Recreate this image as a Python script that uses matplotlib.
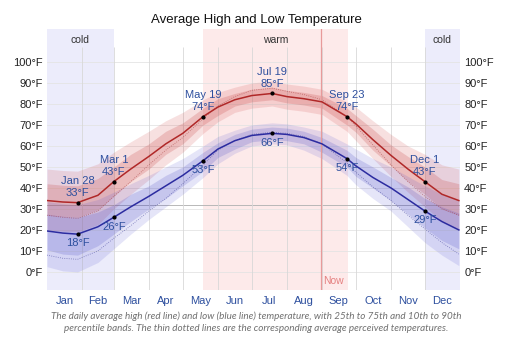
import numpy as np
import matplotlib
matplotlib.use("Agg")
import matplotlib.pyplot as plt

plt.rcParams['font.family'] = ['Liberation Sans', 'DejaVu Sans']

# day of year (0 = Jan 1)
days = [0, 14, 27, 45, 59, 74, 90, 105, 120, 138, 151, 166, 181, 199,
        212, 227, 243, 265, 273, 288, 304, 319, 334, 349, 364]

high = [34, 33.3, 33, 36.5, 43, 49, 55, 61, 66, 74, 78.5, 82, 84, 85,
        83.5, 82.5, 81, 74, 70.5, 63, 55.5, 49, 43, 37, 34]
high_p90 = [49, 48.3, 48, 51.5, 57, 62, 67, 72, 76, 82, 85.5, 88, 90, 91,
            89.5, 88.5, 87, 81, 78.5, 72, 65.5, 60, 56, 51, 49]
high_p75 = [42, 41.3, 41, 44.5, 50, 56, 61, 67, 71, 78, 82.5, 85, 87, 88,
            86.5, 85.5, 84, 78, 74.5, 68, 60.5, 55, 50, 44, 42]
high_p25 = [27, 26.3, 26, 29.5, 36, 43, 49, 56, 61, 70, 74.5, 79, 81, 82,
            80.5, 79.5, 78, 70, 66.5, 58, 50.5, 43, 37, 30, 27]
high_p10 = [20, 19.3, 19, 22.5, 30, 37, 44, 51, 57, 66, 71.5, 76, 78, 79,
            77.5, 76.5, 75, 67, 62.5, 54, 45.5, 38, 31, 24, 20]
high_feel = [27, 26, 25.5, 29, 36, 43, 51, 58, 64, 73, 79, 83.5, 86.5, 87.5,
             86, 84.5, 82, 74, 69.5, 60.5, 51, 43, 36, 30, 27]

low = [19.5, 18.5, 18, 21.5, 26, 31, 36, 41, 46, 53, 58.5, 62.5, 65, 66,
       65.5, 64, 61, 54, 50.5, 45, 40, 34.5, 29, 24, 20]
low_p90 = [33.5, 32.5, 32, 34.5, 38, 42, 46, 50, 54, 60, 64.5, 67.5, 70, 71,
           70.5, 69, 67, 61, 58.5, 54, 50, 45.5, 41, 37, 34]
low_p75 = [27.5, 26.5, 26, 28.5, 32, 37, 41, 46, 50, 57, 61.5, 65.5, 68, 69,
           68.5, 67, 64, 58, 54.5, 50, 45, 40.5, 35, 31, 28]
low_p25 = [10.5, 8.5, 8, 12.5, 18, 24, 30, 35, 41, 48, 54.5, 58.5, 62, 63,
           62.5, 61, 57, 50, 45.5, 40, 34, 27.5, 21, 15, 11]
low_p10 = [2.5, 0.5, 0, 4.5, 11, 18, 25, 31, 37, 45, 51.5, 56.5, 60, 61,
           60.5, 58, 54, 46, 41.5, 35, 29, 21.5, 14, 8, 3]
low_feel = [8, 6.5, 6, 10, 16, 22, 29, 35, 42, 51, 58, 62.5, 65.5, 66.5,
            66, 64.5, 61, 52, 47.5, 40.5, 34, 27, 20.5, 14, 8.5]

month_names = ['Jan', 'Feb', 'Mar', 'Apr', 'May', 'Jun',
               'Jul', 'Aug', 'Sep', 'Oct', 'Nov', 'Dec']
month_starts = [0, 31, 59, 90, 120, 151, 181, 212, 243, 273, 304, 334, 365]

high_marks = [(27, 'Jan 28', 33), (59, 'Mar 1', 43), (138, 'May 19', 74),
              (199, 'Jul 19', 85), (265, 'Sep 23', 74), (334, 'Dec 1', 43)]
low_marks = [(27, 18), (59, 26), (138, 53), (199, 66), (265, 54), (334, 29)]

cold_seasons = [(0, 59), (334, 365)]
warm_season = (138, 266)
now_day = 242

fig = plt.figure(figsize=(5.12, 3.48), dpi=100)
ax = fig.add_axes([0.0918, 0.1667, 0.8066, 0.75])
ymin, ymax = -8.6, 115.7
ax.set_xlim(0, 365)
ax.set_ylim(ymin, ymax)

# seasons
for a, b in cold_seasons:
    ax.axvspan(a, b, color='#ececfb', zorder=0, lw=0)
ax.axvspan(*warm_season, color='#fdeaea', zorder=0, lw=0)
for a, b in cold_seasons:
    ax.text((a + b) / 2, 110.5, 'cold', ha='center', va='center', fontsize=7.5, color='#333333')
ax.text(sum(warm_season) / 2, 110.5, 'warm', ha='center', va='center', fontsize=7.5, color='#333333')

# grid
for t in range(0, 101, 10):
    ax.axhline(t, color='#e4e4e4', lw=0.6, zorder=1)
ax.axhline(32, color='#b8b8b8', lw=0.7, zorder=1)
ax.vlines(month_starts[1:-1], ymin, 107, color='#d8d8d8', lw=0.6, zorder=1)

# bands
ax.fill_between(days, high_p10, high_p90, color='#d04040', alpha=0.16, lw=0, zorder=2)
ax.fill_between(days, high_p25, high_p75, color='#c03030', alpha=0.2, lw=0, zorder=2)
ax.fill_between(days, low_p10, low_p90, color='#4848d0', alpha=0.14, lw=0, zorder=2)
ax.fill_between(days, low_p25, low_p75, color='#3a3ac0', alpha=0.18, lw=0, zorder=2)

ax.plot(days, high_feel, color='#a03030', lw=0.6, ls=':', alpha=0.6, zorder=3)
ax.plot(days, low_feel, color='#303090', lw=0.6, ls=':', alpha=0.6, zorder=3)
ax.plot(days, high, color='#b02828', lw=1.1, zorder=4)
ax.plot(days, low, color='#2c2ca0', lw=1.1, zorder=4)

# now line
ax.axvline(now_day, color='#e89a9a', lw=0.9, zorder=3)
ax.text(now_day + 2, -4.3, 'Now', color='#e58080', fontsize=7.5, va='center', ha='left')

lbl = '#2d4f9e'
for d, name, v in high_marks:
    ax.plot(d, v, 'o', color='black', ms=2, zorder=5)
    ax.annotate(f'{name}\n{v}°F', (d, v), xytext=(0, 3), textcoords='offset points',
                ha='center', va='bottom', fontsize=8, color=lbl, linespacing=1.3, zorder=6)
for d, v in low_marks:
    ax.plot(d, v, 'o', color='black', ms=2, zorder=5)
    ax.annotate(f'{v}°F', (d, v), xytext=(0, -3), textcoords='offset points',
                ha='center', va='top', fontsize=8, color=lbl, zorder=6)

ax.set_yticks(range(0, 101, 10))
ax.set_yticklabels([f'{t}°F' for t in range(0, 101, 10)])
ax.set_xticks([(month_starts[i] + month_starts[i + 1]) / 2 for i in range(12)])
ax.set_xticklabels(month_names)
ax.tick_params(axis='y', length=0, labelsize=8, labelcolor='#222222',
               labelleft=True, labelright=True, pad=3)
ax.tick_params(axis='x', length=0, labelsize=8, labelcolor=lbl, pad=4)
for s in ax.spines.values():
    s.set_visible(False)

fig.text(0.5, 0.943, 'Average High and Low Temperature', ha='center', va='center', fontsize=9.5, color='#111111')
fig.text(0.5, 0.092, 'The daily average high (red line) and low (blue line) temperature, with 25th to 75th and 10th to 90th',
         ha='center', va='center', fontsize=7.1, style='italic', color='#707070', family=['Lato', 'DejaVu Sans'])
fig.text(0.5, 0.055, 'percentile bands. The thin dotted lines are the corresponding average perceived temperatures.',
         ha='center', va='center', fontsize=7.1, style='italic', color='#707070', family=['Lato', 'DejaVu Sans'])

fig.savefig('out.png', dpi=100, facecolor='white')
